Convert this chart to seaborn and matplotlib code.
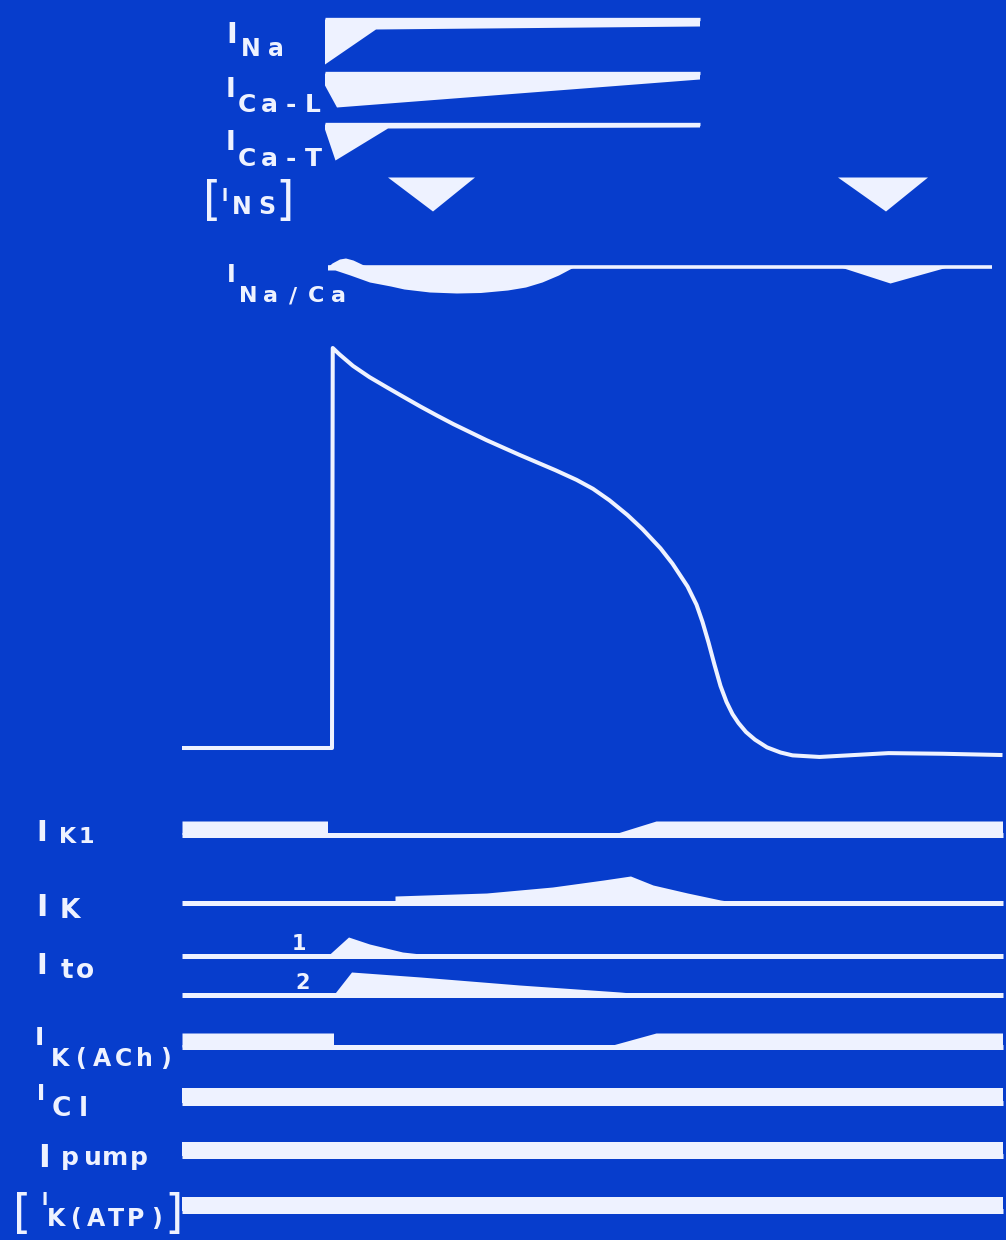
import numpy as np
import pandas as pd
import matplotlib
matplotlib.use("Agg")
import matplotlib.pyplot as plt
import seaborn as sns

sns.set_theme(style="white")
plt.rcParams['font.family'] = ['DejaVu Sans']

BG = "#073dcc"
FG = "#eef2ff"

# ---- action potential (time in ms, voltage in mV) ----
ap_t = [-100, 0, 0.5, 5, 14, 25, 37, 47, 59, 70, 81, 92, 103, 114, 125, 137,
        149, 163, 174, 185, 197, 207, 219, 227, 237, 243, 247, 251, 255, 259,
        263, 267, 271, 276, 282, 290, 299, 307, 325, 371, 407, 447]
ap_mv = [-85, -85, 40, 38, 34.4, 30.9, 27.6, 24.9, 21.7, 18.9, 16.2, 13.7,
         11.2, 8.9, 6.6, 4.2, 1.8, -1.2, -4.0, -7.6, -12.2, -16.6, -22.6, -27.4,
         -34.5, -40.2, -45.6, -52.0, -59.0, -65.6, -70.6, -74.4, -77.2, -80.0,
         -82.4, -84.8, -86.4, -87.3, -87.8, -86.6, -86.8, -87.2]

# ---- inward currents (drawn downward, a.u.) ----
ina_t = [-5, 29, 245]
ina_amp = [45, 10, 7]
ical_t = [-5, 3, 245]
ical_amp = [12, 34, 6]
icat_t = [-5, 2, 37, 245]
icat_amp = [5, 36, 4, 3]
ins_t = [37, 67, 95, 337, 369, 397]
ins_amp = [0, 34, 0, 0, 34, 0]
naca_line_t = [-3, 440]
naca_out_t = [-3, 0, 5, 9, 14, 21, 27]
naca_out_amp = [0, 4, 8, 9, 7, 2, 0]
naca_in_t = [-3, 2, 12, 25, 39, 48, 65, 83, 99, 117, 129, 140, 151, 161,
             339, 372, 410]
naca_in_amp = [3, 3, 8, 15, 19, 22, 25, 26, 25.5, 23, 20, 15, 8, 0,
               0, 16, 0]

# ---- outward currents (drawn upward, a.u.) ----
ik1_t = [-100, -3, -3, 187, 216, 447]
ik1_amp = [13.5, 13.5, 0, 0, 13.5, 13.5]
ik_t = [-100, 42, 42, 103, 147, 181, 199, 214, 237, 259, 270, 447]
ik_amp = [0, 0, 6.5, 9.5, 15.5, 22.5, 26.5, 17.5, 9.5, 2.5, 0, 0]
ito1_t = [-100, -3, 11, 25, 47, 59, 65, 447]
ito1_amp = [0, 0, 19, 12, 4, 2, 0, 0]
ito2_t = [-100, 1, 13, 59, 125, 192, 214, 447]
ito2_amp = [0, 0, 23, 18, 10, 3, 0, 0]
ikach_t = [-100, 1, 1, 187, 216, 447]
ikach_amp = [14, 14, 2, 2, 14, 14]
icl_t = [-100, 447]
icl_amp = [15, 15]
ipump_t = [-100, 447]
ipump_amp = [14, 14]
ikatp_t = [-100, 447]
ikatp_amp = [14, 14]

# ---- layout (pixel rows) ----
PX_PER_MS = 1.5
T0_PX = 332
AP_REST_Y, AP_REST_MV, PX_PER_MV = 748, -85, 3.2

fig = plt.figure(figsize=(10.06, 12.4), dpi=100)
fig.patch.set_facecolor(BG)
ax = fig.add_axes([0, 0, 1, 1])
ax.set_xlim(-T0_PX / PX_PER_MS, (1006 - T0_PX) / PX_PER_MS)
ax.set_ylim(1240, 0)
ax.set_facecolor(BG)
ax.axis('off')


def line(t, y, lw):
    sns.lineplot(x=t, y=y, estimator=None, sort=False, color=FG, lw=lw, ax=ax,
                 solid_capstyle='butt', solid_joinstyle='round')


def trace(t, amp, base, direction, lw=None, line_t=None):
    t = np.asarray(t, float)
    amp = np.asarray(amp, float)
    ax.fill_between(t, base, base + direction * amp, color=FG, lw=0)
    if lw:
        lt = line_t if line_t is not None else [t[0], t[-1]]
        line(lt, [base, base], lw)


# action potential
ap_y = AP_REST_Y - (np.asarray(ap_mv) - AP_REST_MV) * PX_PER_MV
line(ap_t, ap_y, 2.9)

# top panel: inward currents point down
trace(ina_t, ina_amp, 19, +1, lw=2.4)
trace(ical_t, ical_amp, 73, +1, lw=2.4)
trace(icat_t, icat_amp, 124, +1, lw=2.4)
trace(ins_t, ins_amp, 177, +1)
trace(naca_in_t, naca_in_amp, 267, +1, lw=2.6, line_t=naca_line_t)
trace(naca_out_t, naca_out_amp, 267, -1)

# bottom panel: outward currents point up
trace(ik1_t, ik1_amp, 834.5, -1, lw=3.6)
trace(ik_t, ik_amp, 902.5, -1, lw=3.6)
trace(ito1_t, ito1_amp, 956, -1, lw=3.6)
trace(ito2_t, ito2_amp, 995, -1, lw=3.6)
trace(ikach_t, ikach_amp, 1047, -1, lw=3.6)
trace(icl_t, icl_amp, 1103, -1, lw=3.6)
trace(ipump_t, ipump_amp, 1156, -1, lw=3.6)
trace(ikatp_t, ikatp_amp, 1211, -1, lw=3.6)

# ---- labels (overlay axes in pixels) ----
lab = fig.add_axes([0, 0, 1, 1])
lab.set_xlim(0, 1006)
lab.set_ylim(1240, 0)
lab.axis('off')
lab.patch.set_alpha(0)


def spaced(x0, y, s, size, pitch, weight='bold'):
    for i, ch in enumerate(s):
        lab.text(x0 + pitch * (i + 0.5), y, ch, ha='center', va='baseline',
                 fontsize=size, color=FG, fontweight=weight)


def current_label(ix, iy, isize, sx, sy, ssize, sub, pitch):
    lab.text(ix, iy, "I", ha='left', va='baseline', fontsize=isize,
             color=FG, fontweight='bold')
    spaced(sx, sy, sub, ssize, pitch)


# I x, I baseline, I size, sub x, sub baseline, sub size, subscript, pitch
labels = [
    (226, 43, 21, 238, 56, 17, "Na", 25),
    (226, 97, 19, 236, 112, 18, "Ca-L", 22),
    (226, 150, 19, 236, 166, 18, "Ca-T", 22),
    (222, 201, 12, 229, 214, 17, "NS", 25),
    (227, 282, 17, 237, 302, 16, "Na/Ca", 22.5),
    (36, 841, 21, 58, 843, 16, "K1", 19),
    (36, 916, 22, 58, 918, 19, "K", 24),
    (36, 974, 21, 58, 978, 19, "to", 18),
    (35, 1045, 18, 50, 1066, 17, "K(ACh)", 21),
    (37, 1100, 16, 50, 1116, 19, "Cl", 22),
    (38, 1167, 23, 58, 1165, 18, "pump", 23),
    (42, 1205, 12, 46, 1226, 17, "K(ATP)", 20),
]
for spec in labels:
    current_label(*spec)

# brackets and numbers
lab.text(212, 214, "[", ha='center', va='baseline', fontsize=34, color=FG)
lab.text(285, 214, "]", ha='center', va='baseline', fontsize=34, color=FG)
lab.text(22, 1227, "[", ha='center', va='baseline', fontsize=34, color=FG)
lab.text(174, 1227, "]", ha='center', va='baseline', fontsize=34, color=FG)
lab.text(299, 950, "1", ha='center', va='baseline', fontsize=15, color=FG, fontweight='bold')
lab.text(303, 989, "2", ha='center', va='baseline', fontsize=15, color=FG, fontweight='bold')

fig.savefig("out.png", dpi=100, facecolor=BG)
